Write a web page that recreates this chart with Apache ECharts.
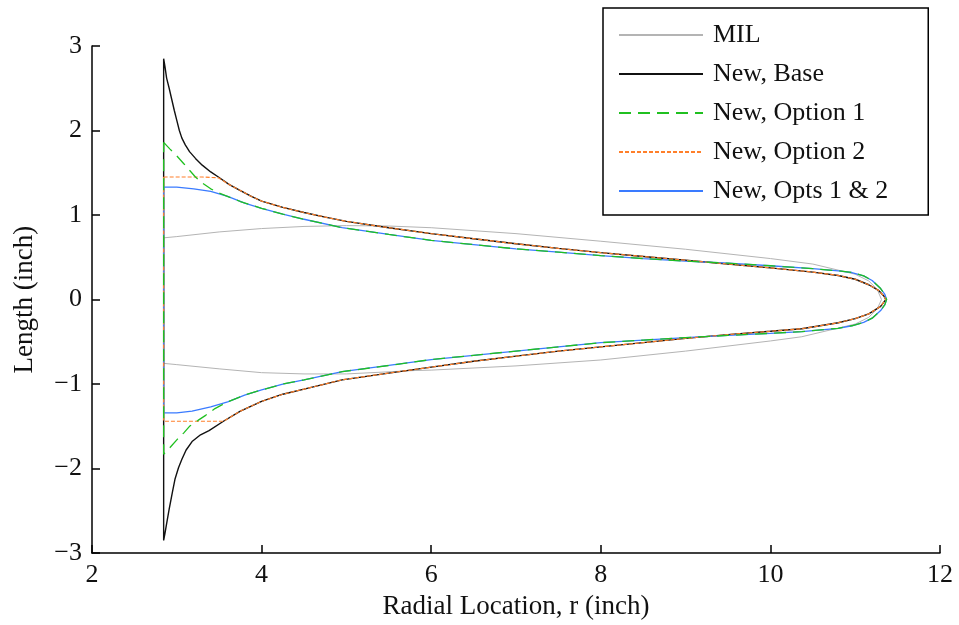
<!DOCTYPE html>
<html>
<head>
<meta charset="utf-8">
<script src="https://cdn.jsdelivr.net/npm/echarts@6/dist/echarts.min.js"></script>
<style>html,body{margin:0;padding:0;background:#fff;}#c{width:959px;height:625px;}</style>
</head>
<body>
<div id="c"></div>
<script>
// ---- Data (r, z) in inches ----
const xTicks = [2, 4, 6, 8, 10, 12];
const yTicks = [-3, -2, -1, 0, 1, 2, 3];
const seriesNames = ['MIL', 'New, Base', 'New, Option 1', 'New, Option 2', 'New, Opts 1 & 2'];

const milTop = [[2.845,0.73],[3.0,0.745],[3.5,0.80],[4.0,0.84],[4.5,0.865],[5.0,0.875],[5.5,0.87],[6.0,0.85],[7.0,0.78],[8.0,0.69],[9.0,0.595],[10.0,0.485],[10.5,0.42],[11.0,0.30],[11.16,0.22],[11.26,0.12],[11.31,0.0]];
const milBot = [[2.845,-0.755],[3.0,-0.77],[3.5,-0.82],[4.0,-0.865],[4.5,-0.88],[5.0,-0.88],[5.8,-0.84],[6.0,-0.835],[7.0,-0.785],[8.0,-0.715],[9.0,-0.61],[10.0,-0.49],[10.37,-0.44],[11.0,-0.29],[11.16,-0.21],[11.26,-0.11],[11.31,0.0]];

const baseTop = [[2.845,2.85],[2.86,2.76],[2.88,2.62],[2.91,2.50],[2.94,2.37],[2.97,2.24],[3.00,2.12],[3.03,2.00],[3.06,1.91],[3.10,1.83],[3.15,1.75],[3.22,1.67],[3.30,1.59],[3.40,1.51],[3.49,1.45],[3.62,1.36],[3.75,1.29],[3.88,1.22],[4.00,1.165],[4.25,1.09],[4.50,1.03],[4.75,0.975],[5.00,0.925],[5.50,0.85],[6.00,0.78],[6.50,0.72],[7.00,0.66],[7.50,0.605],[8.00,0.555],[8.50,0.51],[9.00,0.465],[9.50,0.42],[10.00,0.375],[10.50,0.325],[10.80,0.285],[11.00,0.24],[11.16,0.175],[11.28,0.105],[11.34,0.04],[11.36,0.0]];
const baseBot = [[2.845,-2.85],[2.86,-2.77],[2.88,-2.65],[2.91,-2.48],[2.95,-2.27],[2.98,-2.12],[3.02,-1.99],[3.06,-1.89],[3.11,-1.78],[3.18,-1.68],[3.28,-1.60],[3.38,-1.55],[3.55,-1.44],[3.75,-1.32],[4.00,-1.205],[4.25,-1.12],[4.50,-1.06],[4.95,-0.95],[5.50,-0.87],[6.00,-0.80],[6.50,-0.73],[7.00,-0.67],[7.50,-0.61],[8.00,-0.56],[8.50,-0.51],[9.00,-0.46],[9.50,-0.415],[10.00,-0.375],[10.37,-0.345],[10.80,-0.275],[11.00,-0.225],[11.16,-0.17],[11.30,-0.08],[11.36,0.0]];

const opt1Top = [[2.845,1.86],[2.92,1.78],[3.0,1.70],[3.08,1.61],[3.15,1.53],[3.22,1.45],[3.30,1.38],[3.40,1.31],[3.50,1.26],[3.75,1.16],[4.00,1.08],[4.25,1.01],[4.50,0.95],[4.95,0.85],[5.50,0.77],[6.00,0.70],[6.50,0.65],[7.00,0.60],[7.50,0.56],[8.00,0.52],[8.50,0.485],[9.00,0.455],[9.50,0.43],[10.00,0.40],[10.50,0.365],[10.80,0.34],[10.96,0.32],[11.10,0.28],[11.20,0.225],[11.30,0.13],[11.35,0.06],[11.37,0.0]];
const opt1Bot = [[2.845,-1.83],[2.92,-1.75],[3.0,-1.66],[3.08,-1.58],[3.15,-1.50],[3.25,-1.43],[3.34,-1.37],[3.45,-1.29],[3.60,-1.21],[3.80,-1.13],[4.00,-1.07],[4.25,-1.00],[4.50,-0.95],[4.95,-0.853],[5.50,-0.78],[6.00,-0.71],[6.50,-0.66],[7.00,-0.61],[7.50,-0.56],[8.00,-0.51],[8.50,-0.48],[9.00,-0.45],[9.50,-0.425],[10.00,-0.40],[10.37,-0.38],[10.80,-0.34],[10.96,-0.31],[11.10,-0.27],[11.20,-0.22],[11.30,-0.13],[11.35,-0.06],[11.37,0.0]];

const opt2Top = [[2.845,1.45],[3.10,1.45],[3.30,1.45],[3.49,1.44],[3.62,1.36],[3.75,1.29],[3.88,1.22],[4.00,1.165],[4.25,1.09],[4.50,1.03],[4.75,0.975],[5.00,0.925],[5.50,0.85],[6.00,0.78],[6.50,0.72],[7.00,0.66],[7.50,0.605],[8.00,0.555],[8.50,0.51],[9.00,0.465],[9.50,0.42],[10.00,0.375],[10.50,0.325],[10.80,0.285],[11.00,0.24],[11.16,0.175],[11.28,0.105],[11.34,0.04],[11.36,0.0]];
const opt2Bot = [[2.845,-1.44],[3.20,-1.44],[3.55,-1.44],[3.75,-1.32],[4.00,-1.205],[4.25,-1.12],[4.50,-1.06],[4.95,-0.95],[5.50,-0.87],[6.00,-0.80],[6.50,-0.73],[7.00,-0.67],[7.50,-0.61],[8.00,-0.56],[8.50,-0.51],[9.00,-0.46],[9.50,-0.415],[10.00,-0.375],[10.37,-0.345],[10.80,-0.275],[11.00,-0.225],[11.16,-0.17],[11.30,-0.08],[11.36,0.0]];

const opt12Top = [[2.845,1.33],[3.0,1.33],[3.20,1.31],[3.40,1.28],[3.60,1.22],[3.80,1.14],[4.00,1.08],[4.25,1.01],[4.50,0.95],[4.95,0.85],[5.50,0.77],[6.00,0.70],[6.50,0.65],[7.00,0.60],[7.50,0.56],[8.00,0.52],[8.50,0.485],[9.00,0.455],[9.50,0.43],[10.00,0.40],[10.50,0.365],[10.80,0.34],[10.96,0.32],[11.10,0.28],[11.20,0.225],[11.30,0.13],[11.35,0.06],[11.37,0.0]];
const opt12Bot = [[2.845,-1.34],[3.0,-1.34],[3.18,-1.32],[3.40,-1.27],[3.60,-1.21],[3.80,-1.13],[4.00,-1.07],[4.25,-1.00],[4.50,-0.95],[4.95,-0.853],[5.50,-0.78],[6.00,-0.71],[6.50,-0.66],[7.00,-0.61],[7.50,-0.56],[8.00,-0.51],[8.50,-0.48],[9.00,-0.45],[9.50,-0.425],[10.00,-0.40],[10.37,-0.38],[10.80,-0.34],[10.96,-0.31],[11.10,-0.27],[11.20,-0.22],[11.30,-0.13],[11.35,-0.06],[11.37,0.0]];

function contour(top, bot) {
  return top.concat(bot.slice().reverse(), [top[0]]);
}

const FONT = 'Liberation Serif';
const chart = echarts.init(document.getElementById('c'), null, {renderer: 'canvas'});
const minus = v => String(v).replace('-', '\u2212');

function ser(name, data, color, width, type, z) {
  return {
    name: name, type: 'line', data: data, symbol: 'none', showSymbol: false, smooth: false,
    lineStyle: {color: color, width: width, type: type},
    itemStyle: {color: color},
    z: z, animation: false
  };
}

chart.setOption({
  backgroundColor: '#fff',
  animation: false,
  grid: {left: 92, right: 19, top: 46, bottom: 67, containLabel: false},
  xAxis: {
    type: 'value', min: 2, max: 12, interval: 2,
    name: 'Radial Location, r (inch)', nameLocation: 'middle', nameGap: 38,
    nameTextStyle: {fontFamily: FONT, fontSize: 27, color: '#111'},
    axisLine: {onZero: false, lineStyle: {color: '#000', width: 1.5}},
    axisTick: {inside: true, length: 8, lineStyle: {color: '#000', width: 1.5}},
    axisLabel: {fontFamily: FONT, fontSize: 26, color: '#111', margin: 9, formatter: minus},
    splitLine: {show: false}
  },
  yAxis: {
    type: 'value', min: -3, max: 3, interval: 1,
    name: 'Length (inch)', nameLocation: 'middle', nameGap: 54, nameRotate: 90,
    nameTextStyle: {fontFamily: FONT, fontSize: 27, color: '#111'},
    axisLine: {onZero: false, lineStyle: {color: '#000', width: 1.5}},
    axisTick: {inside: true, length: 8, lineStyle: {color: '#000', width: 1.5}},
    axisLabel: {fontFamily: FONT, fontSize: 26, color: '#111', margin: 10, formatter: minus},
    splitLine: {show: false}
  },
  legend: {
    data: seriesNames,
    orient: 'vertical', left: 603, top: 8,
    padding: [14, 40, 11, 15],
    itemWidth: 84, itemHeight: 14, itemGap: 13,
    itemStyle: {opacity: 0},
    backgroundColor: '#fff', borderColor: '#000', borderWidth: 1.5,
    textStyle: {fontFamily: FONT, fontSize: 26, color: '#111', lineHeight: 24, padding: [0, 0, 0, 5]},
    selectedMode: false
  },
  series: [
    ser('MIL', contour(milTop, milBot), '#b4b4b4', 1, 'solid', 1),
    ser('New, Base', contour(baseTop, baseBot), '#111111', 1.4, 'solid', 2),
    ser('New, Opts 1 & 2', contour(opt12Top, opt12Bot), '#3a7bff', 1.3, 'solid', 3),
    ser('New, Option 2', contour(opt2Top, opt2Bot), '#ff7f2a', 1.2, [4, 2], 4),
    ser('New, Option 1', contour(opt1Top, opt1Bot), '#20c020', 1.3, [12, 7], 5)
  ]
});
</script>
</body>
</html>
